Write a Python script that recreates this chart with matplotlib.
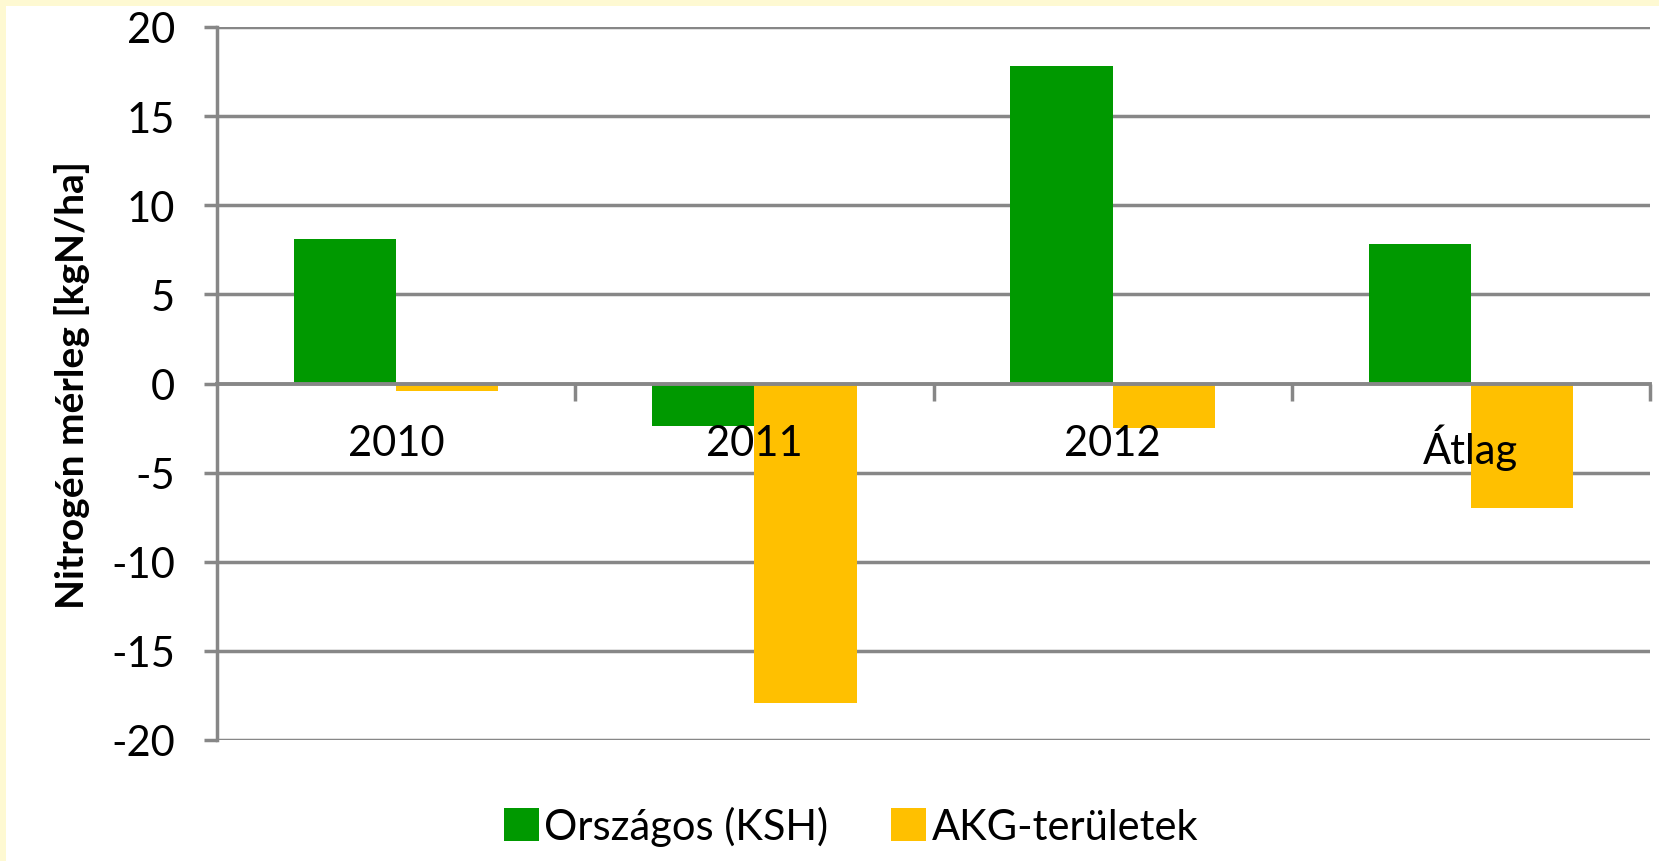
import matplotlib
matplotlib.use("Agg")
import matplotlib.pyplot as plt
from matplotlib.patches import Rectangle
import numpy as np

categories = ["2010", "2011", "2012", "Átlag"]
orszagos = [8.1, -2.4, 17.8, 7.8]
akg = [-0.4, -17.9, -2.5, -7.0]
series_names = ["Országos (KSH)", "AKG-területek"]
yticks = [-20, -15, -10, -5, 0, 5, 10, 15, 20]

GREEN = "#009900"
GOLD = "#FFC000"
GRID = "#878787"
BORDER = "#FEF9D2"

plt.rcParams["font.family"] = ["Lato", "DejaVu Sans"]
plt.rcParams["axes.unicode_minus"] = False

fig = plt.figure(figsize=(16.59, 8.62), dpi=100, facecolor="white")
# pale yellow frame at top and left
fig.patches.append(Rectangle((0, 1 - 7 / 862), 1, 7 / 862, transform=fig.transFigure,
                             facecolor=BORDER, edgecolor="none", zorder=0))
fig.patches.append(Rectangle((0, 0), 6 / 1659, 1, transform=fig.transFigure,
                             facecolor=BORDER, edgecolor="none", zorder=0))

ax = fig.add_axes([217 / 1659, 1 - 741 / 862, (1650 - 217) / 1659, (741 - 28) / 862])
ax.set_facecolor("none")
ax.set_axisbelow(False)

x = np.arange(len(categories))
w = 1 / 3.5
ax.bar(x - w / 2, orszagos, width=w, color=GREEN, label=series_names[0], zorder=1.2)
ax.bar(x + w / 2, akg, width=w, color=GOLD, label=series_names[1], zorder=1.2)

ax.set_xlim(-0.5, len(categories) - 0.5)
ax.set_ylim(-20, 20)

# gridlines
for v in yticks:
    if v != 0:
        ax.axhline(v, color=GRID, lw=2.5, zorder=0.8)

for s in ["top", "right"]:
    ax.spines[s].set_visible(False)
ax.spines["left"].set_color(GRID)
ax.spines["left"].set_linewidth(2.5)
ax.spines["left"].set_zorder(0.8)
ax.spines["bottom"].set_position(("data", 0))
ax.spines["bottom"].set_color(GRID)
ax.spines["bottom"].set_linewidth(2.8)
ax.spines["bottom"].set_zorder(3)

ax.set_yticks(yticks)
ax.set_yticklabels([str(v) for v in yticks])
ax.tick_params(axis="y", direction="out", length=9.4, width=2.5, color=GRID,
               labelsize=30, pad=21, labelcolor="black")

ax.set_xticks(x)
ax.set_xticklabels(categories)
ax.tick_params(axis="x", which="major", length=0, labelsize=30, pad=29, labelcolor="black")
ax.set_xticks(np.arange(0.5, len(categories), 1.0), minor=True)
ax.tick_params(axis="x", which="minor", direction="out", length=12, width=2.5, color=GRID)

fig.text(72 / 1659, 1 - 385 / 862, "Nitrogén mérleg [kgN/ha]", rotation=90,
         ha="center", va="center", fontsize=28, fontweight="bold", color="black")

leg = fig.legend(loc="center", bbox_to_anchor=(851 / 1659, 1 - 827 / 862), ncol=2,
                 frameon=False, fontsize=30, handlelength=0.85, handleheight=0.85,
                 handletextpad=0.12, columnspacing=1.5)

fig.savefig("out.png", dpi=100, facecolor="white")
